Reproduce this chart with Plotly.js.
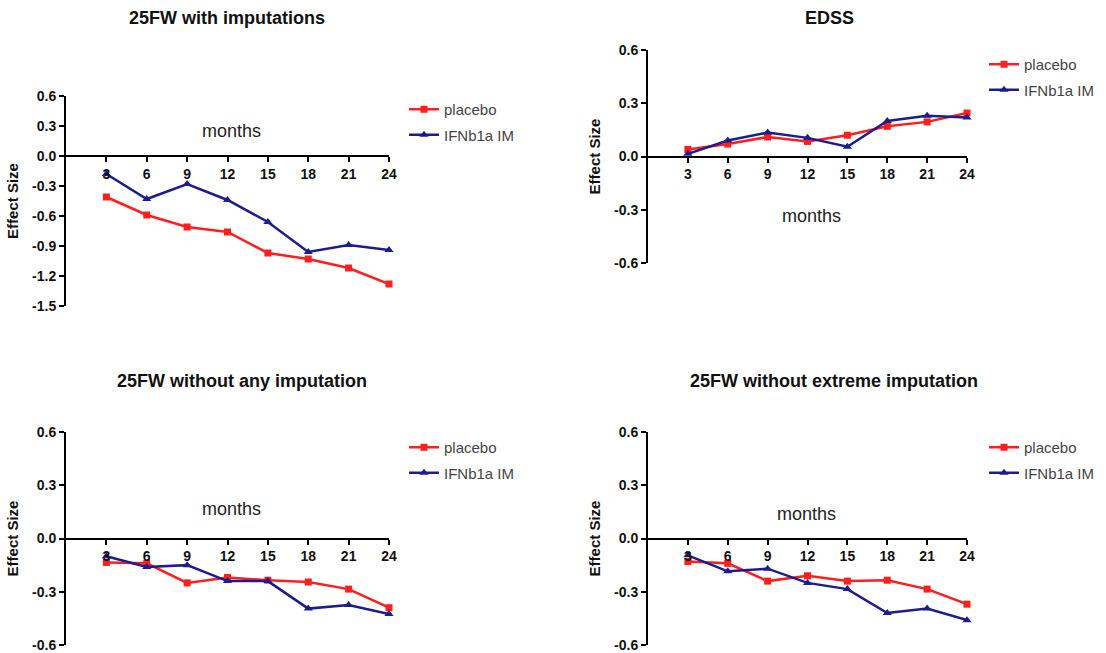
<!DOCTYPE html>
<html>
<head>
<meta charset="utf-8">
<script src="https://cdn.plot.ly/plotly-3.0.1.min.js"></script>
<style>html,body{margin:0;padding:0;background:#fff;}#chart{width:1106px;height:653px;}</style>
</head>
<body>
<div id="chart"></div>
<script>
// ---- data ----
const months = [3, 6, 9, 12, 15, 18, 21, 24];
const seriesNames = ["placebo", "IFNb1a IM"];
const panelTitles = ["25FW with imputations", "EDSS", "25FW without any imputation", "25FW without extreme imputation"];

const withImp_placebo = [-0.41, -0.59, -0.71, -0.76, -0.97, -1.03, -1.12, -1.28];
const withImp_ifn     = [-0.18, -0.43, -0.28, -0.44, -0.66, -0.96, -0.89, -0.94];

const edss_placebo = [0.04, 0.07, 0.11, 0.085, 0.12, 0.17, 0.195, 0.245];
const edss_ifn     = [0.015, 0.09, 0.135, 0.105, 0.055, 0.20, 0.23, 0.22];

const noImp_placebo = [-0.135, -0.14, -0.25, -0.22, -0.235, -0.245, -0.285, -0.39];
const noImp_ifn     = [-0.10, -0.16, -0.15, -0.24, -0.24, -0.395, -0.375, -0.425];

const noExt_placebo = [-0.13, -0.14, -0.24, -0.21, -0.24, -0.235, -0.285, -0.37];
const noExt_ifn     = [-0.095, -0.185, -0.17, -0.25, -0.285, -0.42, -0.395, -0.46];

const yTicks1 = [0.6, 0.3, 0.0, -0.3, -0.6, -0.9, -1.2, -1.5];
const yTicks2 = [0.6, 0.3, 0.0, -0.3, -0.6];

// ---- layout helpers ----
const W = 1106, H = 653;
const fx = p => p / W;
const fy = p => 1 - p / H;

const panels = [
  {pl: withImp_placebo, ifn: withImp_ifn, xd: [66, 389], yd: [96, 306], yr: [-1.5, 0.6], yt: yTicks1,
   title: [227, 18], monthsPos: [231, 131], legend: [404, 93]},
  {pl: edss_placebo, ifn: edss_ifn, xd: [648, 967], yd: [50, 263], yr: [-0.6, 0.6], yt: yTicks2,
   title: [829, 18], monthsPos: [811, 216], legend: [984, 48]},
  {pl: noImp_placebo, ifn: noImp_ifn, xd: [66, 389], yd: [432, 645], yr: [-0.6, 0.6], yt: yTicks2,
   title: [242, 381], monthsPos: [231, 509], legend: [404, 431]},
  {pl: noExt_placebo, ifn: noExt_ifn, xd: [648, 967], yd: [432, 645], yr: [-0.6, 0.6], yt: yTicks2,
   title: [834, 381], monthsPos: [806, 514], legend: [984, 431]}
];

const RED = "#ff1e1e", BLUE = "#1c1c90";
const FONT = "Liberation Sans, Arial, sans-serif";
const traces = [];
const layout = {
  width: W, height: H,
  margin: {l: 0, r: 0, t: 0, b: 0},
  paper_bgcolor: "#fff", plot_bgcolor: "rgba(0,0,0,0)",
  font: {family: FONT, color: "#111"},
  showlegend: true,
  annotations: []
};

panels.forEach((p, i) => {
  const k = i + 1;
  const xa = "x" + (k === 1 ? "" : k), ya = "y" + (k === 1 ? "" : k);
  const lg = "legend" + (k === 1 ? "" : k);
  traces.push({
    x: months, y: p.pl, name: seriesNames[0], type: "scatter", mode: "lines+markers",
    xaxis: xa, yaxis: ya, legend: lg, legendgroup: "a" + k, cliponaxis: false,
    line: {color: RED, width: 2.5}, marker: {symbol: "square", size: 7, color: RED}
  });
  traces.push({
    x: months, y: p.ifn, name: seriesNames[1], type: "scatter", mode: "lines+markers",
    xaxis: xa, yaxis: ya, legend: lg, legendgroup: "b" + k, cliponaxis: false,
    line: {color: BLUE, width: 2.5}, marker: {symbol: "triangle-up", size: 8, color: BLUE}
  });

  const yDom = [fy(p.yd[1]), fy(p.yd[0])];
  const zeroPos = yDom[0] + (0 - p.yr[0]) / (p.yr[1] - p.yr[0]) * (yDom[1] - yDom[0]);
  layout["xaxis" + (k === 1 ? "" : k)] = {
    domain: [fx(p.xd[0]), fx(p.xd[1])], range: [0, 24], anchor: "free", position: zeroPos,
    tickvals: months, ticktext: months.map(String),
    showline: true, linecolor: "#000", linewidth: 2,
    ticks: "outside", ticklen: 5, tickwidth: 2, tickcolor: "#000",
    showgrid: false, zeroline: false, fixedrange: true,
    tickfont: {family: FONT, size: 14, color: "#111", weight: "bold"}
  };
  layout["yaxis" + (k === 1 ? "" : k)] = {
    domain: yDom, range: p.yr, anchor: xa, tickvals: p.yt, ticktext: p.yt.map(v => v.toFixed(1)),
    showline: true, linecolor: "#000", linewidth: 2,
    ticks: "outside", ticklen: 5, tickwidth: 2, tickcolor: "#000",
    showgrid: false, zeroline: false, fixedrange: true,
    tickfont: {family: FONT, size: 14, color: "#111", weight: "bold"},
    title: {text: "Effect Size", standoff: 10, font: {family: FONT, size: 15, color: "#111", weight: "bold"}}
  };
  layout[lg] = {
    x: fx(p.legend[0]), y: fy(p.legend[1]), xanchor: "left", yanchor: "top",
    bgcolor: "rgba(0,0,0,0)", borderwidth: 0, traceorder: "grouped",
    font: {family: FONT, size: 15, color: "#444"}, tracegroupgap: 3
  };
  layout.annotations.push({
    text: "<b>" + panelTitles[i] + "</b>", xref: "paper", yref: "paper",
    x: fx(p.title[0]), y: fy(p.title[1]), xanchor: "center", yanchor: "middle", showarrow: false,
    font: {family: FONT, size: 18, color: "#111"}
  });
  layout.annotations.push({
    text: "months", xref: "paper", yref: "paper",
    x: fx(p.monthsPos[0]), y: fy(p.monthsPos[1]), xanchor: "center", yanchor: "middle", showarrow: false,
    font: {family: FONT, size: 18, color: "#222"}
  });
});

Plotly.newPlot("chart", traces, layout, {displayModeBar: false, staticPlot: true});
</script>
</body>
</html>
